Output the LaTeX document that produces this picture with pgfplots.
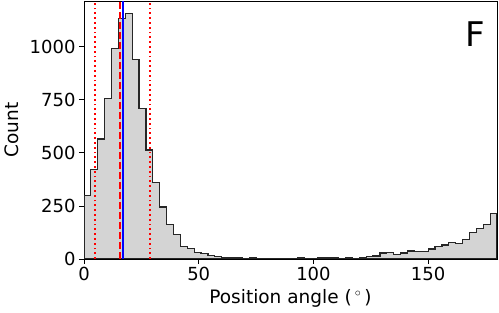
\documentclass[border=0pt]{standalone}
\usepackage{pgfplots}
\pgfplotsset{compat=1.18}
\usepackage{fontspec}
\setmainfont{DejaVu Sans}
\begin{document}
\begin{tikzpicture}
\useasboundingbox (0,0) rectangle (499pt,313pt);
\begin{axis}[
  at={(84pt,54pt)}, anchor=south west,
  scale only axis, width=413pt, height=258pt,
  xmin=0, xmax=180, ymin=0, ymax=1215,
  xtick={0,50,100,150}, ytick={0,250,500,750,1000},
  tick align=outside, major tick length=5pt,
  tick style={black, line width=0.8pt},
  xtick pos=bottom, ytick pos=left,
  axis line style={black, line width=0.8pt},
  /pgf/number format/assume math mode=true,
  /pgf/number format/1000 sep={},
  ticklabel style={font=\fontsize{18}{20}\selectfont},
  xlabel={Position angle (\,$^\circ$\,)},
  ylabel={Count},
  label style={font=\fontsize{18.5}{20}\selectfont},
  xlabel style={yshift=-1pt},
  ylabel style={yshift=4pt},
  clip=true,
]
\addplot[const plot, fill=black!17, draw=black!85, line width=1.2pt] coordinates {
(0,300) (3,423) (6,565) (9,754) (12,993) (15,1134) (18,1157) (21,941) (24,710) (27,513)
(30,362) (33,245) (36,163) (39,115) (42,58) (45,50) (48,32) (51,25) (54,16) (57,11)
(60,8) (63,8) (66,6) (69,2) (72,8) (75,2) (78,2) (81,2) (84,2) (87,1)
(90,4) (93,5) (96,2) (99,3) (102,5) (105,5) (108,5) (111,3) (114,5) (117,3)
(120,8) (123,10) (126,14) (129,28) (132,32) (135,20) (138,28) (141,38) (144,36) (147,36)
(150,47) (153,60) (156,66) (159,78) (162,72) (165,91) (168,125) (171,144) (174,163) (177,213)
(180,213)
} \closedcycle;
\addplot[red, line width=1.8pt, dash pattern=on 1.8pt off 3pt] coordinates {(4.7,0) (4.7,1215)};
\addplot[red, line width=1.8pt, dash pattern=on 1.8pt off 3pt] coordinates {(28.7,0) (28.7,1215)};
\addplot[red, line width=1.8pt, dash pattern=on 7pt off 3pt] coordinates {(15.7,0) (15.7,1215)};
\addplot[blue, line width=1.8pt] coordinates {(17.1,0) (17.1,1215)};
\node[font=\fontsize{34}{36}\selectfont] at (rel axis cs:0.947,0.872) {F};
\end{axis}
\end{tikzpicture}
\end{document}
